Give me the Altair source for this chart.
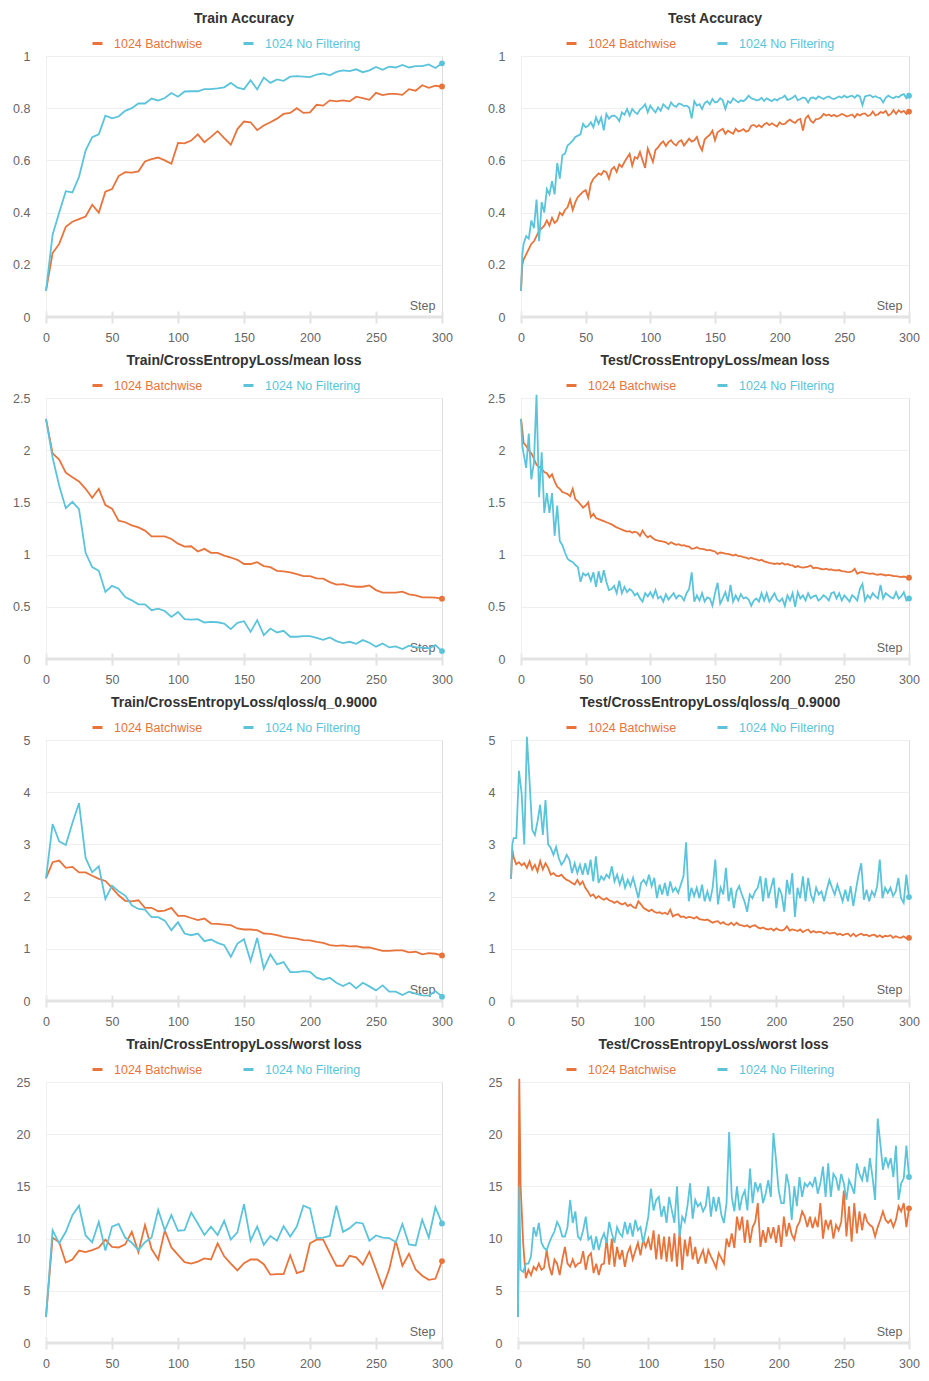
import altair as alt
import pandas as pd

RUNS = ["1024 Batchwise", "1024 No Filtering"]
ORANGE = "#E8743B"
CYAN = "#5BC4DB"
FONT = "Liberation Sans"

X_TICKS = [0, 50, 100, 150, 200, 250, 300]
ACC_TICKS = [0, 0.2, 0.4, 0.6, 0.8, 1]
MEAN_TICKS = [0, 0.5, 1, 1.5, 2, 2.5]
Q_TICKS = [0, 1, 2, 3, 4, 5]
WORST_TICKS = [0, 5, 10, 15, 20, 25]

TRAIN_STEPS = list(range(0, 301, 5))
TEST_STEPS = [0, 1] + list(range(2, 301, 2))

# ---------------- Train (every 5 steps) ----------------
TRAIN_ACC_B = [0.10, 0.245, 0.28, 0.346, 0.365, 0.375, 0.385, 0.43, 0.40, 0.48,
               0.49, 0.54, 0.555, 0.553, 0.558, 0.596, 0.605, 0.611, 0.60, 0.587,
               0.667, 0.665, 0.676, 0.70, 0.67, 0.69, 0.712, 0.685, 0.66, 0.72,
               0.749, 0.746, 0.716, 0.734, 0.746, 0.76, 0.778, 0.782, 0.80, 0.782,
               0.784, 0.813, 0.81, 0.83, 0.826, 0.83, 0.826, 0.844, 0.839, 0.832,
               0.859, 0.85, 0.855, 0.855, 0.851, 0.873, 0.867, 0.888, 0.878, 0.886,
               0.883]
TRAIN_ACC_N = [0.10, 0.315, 0.40, 0.482, 0.477, 0.537, 0.638, 0.689, 0.70, 0.771,
               0.761, 0.768, 0.79, 0.80, 0.818, 0.818, 0.837, 0.829, 0.839, 0.858,
               0.844, 0.864, 0.865, 0.865, 0.873, 0.873, 0.876, 0.88, 0.897, 0.879,
               0.873, 0.907, 0.872, 0.917, 0.897, 0.91, 0.905, 0.921, 0.923, 0.921,
               0.919, 0.929, 0.933, 0.926, 0.939, 0.945, 0.942, 0.949, 0.938, 0.945,
               0.958, 0.947, 0.959, 0.956, 0.966, 0.956, 0.961, 0.961, 0.968, 0.954,
               0.972]
TRAIN_MEAN_B = [2.30, 1.97, 1.91, 1.785, 1.74, 1.70, 1.63, 1.545, 1.63, 1.475,
                1.44, 1.325, 1.31, 1.28, 1.26, 1.23, 1.175, 1.175, 1.175, 1.15,
                1.105, 1.077, 1.08, 1.03, 1.055, 1.017, 1.017, 0.99, 0.972, 0.95,
                0.91, 0.91, 0.928, 0.89, 0.88, 0.845, 0.84, 0.83, 0.813, 0.794,
                0.794, 0.772, 0.769, 0.737, 0.712, 0.718, 0.70, 0.692, 0.692, 0.705,
                0.66, 0.635, 0.635, 0.635, 0.645, 0.62, 0.61, 0.59, 0.59, 0.588,
                0.578]
TRAIN_MEAN_N = [2.30, 1.93, 1.66, 1.445, 1.505, 1.435, 1.017, 0.88, 0.845, 0.642,
                0.70, 0.673, 0.594, 0.562, 0.524, 0.524, 0.467, 0.483, 0.46, 0.403,
                0.451, 0.381, 0.378, 0.381, 0.35, 0.356, 0.352, 0.34, 0.286, 0.346,
                0.362, 0.26, 0.372, 0.229, 0.292, 0.254, 0.27, 0.213, 0.213, 0.219,
                0.219, 0.203, 0.184, 0.206, 0.172, 0.152, 0.165, 0.146, 0.181, 0.156,
                0.118, 0.149, 0.111, 0.121, 0.095, 0.127, 0.114, 0.108, 0.102, 0.133,
                0.076]
TRAIN_Q_B = [2.35, 2.66, 2.69, 2.55, 2.57, 2.465, 2.465, 2.40, 2.34, 2.30,
             2.165, 2.025, 1.92, 1.91, 1.93, 1.785, 1.785, 1.72, 1.73, 1.785,
             1.63, 1.63, 1.59, 1.55, 1.58, 1.484, 1.478, 1.465, 1.452, 1.39,
             1.37, 1.37, 1.357, 1.293, 1.287, 1.26, 1.23, 1.21, 1.197, 1.166,
             1.16, 1.134, 1.115, 1.07, 1.057, 1.064, 1.045, 1.05, 1.025, 1.025,
             0.994, 0.962, 0.962, 0.968, 0.968, 0.93, 0.943, 0.892, 0.917, 0.905,
             0.873]
TRAIN_Q_N = [2.35, 3.39, 3.06, 2.99, 3.41, 3.79, 2.74, 2.465, 2.58, 1.955,
             2.21, 2.10, 2.02, 1.834, 1.764, 1.75, 1.605, 1.605, 1.54, 1.357,
             1.51, 1.293, 1.26, 1.293, 1.146, 1.178, 1.115, 1.07, 0.847, 1.10,
             1.185, 0.764, 1.21, 0.618, 0.892, 0.70, 0.745, 0.554, 0.554, 0.573,
             0.56, 0.446, 0.408, 0.446, 0.35, 0.287, 0.35, 0.242, 0.35, 0.28,
             0.204, 0.30, 0.178, 0.178, 0.115, 0.178, 0.14, 0.108, 0.102, 0.19,
             0.083]
TRAIN_WORST_B = [2.5, 10.1, 9.65, 7.7, 8.0, 8.85, 8.7, 8.9, 9.15, 9.9,
                 9.2, 9.15, 9.45, 10.65, 8.7, 11.3, 9.0, 8.0, 10.8, 9.15,
                 8.45, 7.75, 7.6, 7.8, 8.1, 8.0, 9.55, 8.3, 7.6, 6.95,
                 7.65, 8.0, 8.0, 7.55, 6.55, 6.6, 6.6, 8.4, 6.7, 6.9,
                 9.55, 9.9, 9.9, 8.6, 7.4, 7.4, 8.35, 8.2, 7.5, 8.75,
                 7.05, 5.3, 7.05, 9.8, 7.4, 8.55, 7.05, 6.45, 6.05, 6.15,
                 7.85]
TRAIN_WORST_N = [2.5, 10.8, 9.55, 10.65, 12.25, 13.15, 10.3, 9.65, 11.6, 8.85,
                 11.15, 11.4, 10.1, 9.6, 8.9, 9.65, 10.1, 12.75, 10.8, 12.25,
                 10.75, 10.8, 12.5, 11.45, 10.35, 11.15, 10.35, 11.7, 9.9, 10.6,
                 13.3, 9.8, 11.15, 9.4, 10.25, 9.8, 11.2, 10.2, 11.15, 13.15,
                 12.9, 10.05, 10.1, 10.25, 13.15, 10.65, 11.0, 11.55, 11.45, 9.8,
                 10.3, 10.1, 10.05, 9.65, 11.4, 9.45, 9.35, 11.8, 10.1, 13.0,
                 11.45]

# ---------------- Test (steps 0, 1, then every 2 steps) ----------------
TEST_ACC_B = [0.10, 0.20, 0.22, 0.24, 0.26, 0.28, 0.29, 0.31, 0.33, 0.34, 0.35,
              0.37, 0.35, 0.38, 0.36, 0.37, 0.40, 0.39, 0.41, 0.42, 0.45,
              0.41, 0.44, 0.46, 0.47, 0.48, 0.486, 0.457, 0.51, 0.53, 0.54,
              0.55, 0.545, 0.56, 0.555, 0.53, 0.565, 0.575, 0.556, 0.585, 0.575,
              0.594, 0.61, 0.625, 0.58, 0.613, 0.607, 0.632, 0.60, 0.571, 0.645,
              0.62, 0.594, 0.64, 0.65, 0.664, 0.673, 0.655, 0.67, 0.677, 0.664,
              0.657, 0.672, 0.677, 0.657, 0.67, 0.683, 0.672, 0.677, 0.69, 0.657,
              0.638, 0.68, 0.69, 0.698, 0.714, 0.677, 0.708, 0.715, 0.721, 0.702,
              0.714, 0.708, 0.702, 0.721, 0.711, 0.714, 0.72, 0.71, 0.714, 0.733,
              0.736, 0.728, 0.735, 0.727, 0.738, 0.744, 0.735, 0.742, 0.736, 0.73,
              0.746, 0.738, 0.74, 0.75, 0.756, 0.748, 0.744, 0.755, 0.759, 0.714,
              0.761, 0.772, 0.752, 0.744, 0.758, 0.759, 0.765, 0.778, 0.772, 0.776,
              0.769, 0.775, 0.768, 0.772, 0.778, 0.774, 0.768, 0.772, 0.776, 0.765,
              0.778, 0.772, 0.778, 0.78, 0.77, 0.774, 0.787, 0.772, 0.776, 0.785,
              0.782, 0.79, 0.772, 0.778, 0.793, 0.778, 0.792, 0.784, 0.79, 0.778,
              0.787]
TEST_ACC_N = [0.10, 0.24, 0.28, 0.31, 0.30, 0.37, 0.34, 0.45, 0.29, 0.44, 0.40,
              0.49, 0.47, 0.52, 0.47, 0.59, 0.53, 0.62, 0.626, 0.657, 0.665,
              0.676, 0.69, 0.695, 0.70, 0.74, 0.727, 0.733, 0.746, 0.727, 0.765,
              0.74, 0.765, 0.715, 0.778, 0.76, 0.77, 0.772, 0.765, 0.75, 0.784,
              0.775, 0.797, 0.772, 0.797, 0.785, 0.778, 0.795, 0.803, 0.815, 0.784,
              0.81, 0.795, 0.784, 0.803, 0.79, 0.815, 0.805, 0.797, 0.822, 0.81,
              0.805, 0.818, 0.815, 0.808, 0.81, 0.803, 0.761, 0.827, 0.81, 0.815,
              0.797, 0.82, 0.827, 0.815, 0.835, 0.822, 0.825, 0.838, 0.83, 0.797,
              0.827, 0.82, 0.838, 0.83, 0.822, 0.83, 0.827, 0.835, 0.848, 0.838,
              0.835, 0.83, 0.832, 0.84, 0.828, 0.838, 0.832, 0.827, 0.835, 0.83,
              0.838, 0.84, 0.848, 0.832, 0.835, 0.84, 0.848, 0.83, 0.835, 0.841,
              0.838, 0.822, 0.84, 0.841, 0.835, 0.845, 0.84, 0.835, 0.842, 0.845,
              0.838, 0.835, 0.84, 0.845, 0.84, 0.848, 0.841, 0.845, 0.848, 0.84,
              0.85, 0.845, 0.812, 0.845, 0.848, 0.85, 0.842, 0.846, 0.841, 0.838,
              0.822, 0.84, 0.848, 0.842, 0.838, 0.845, 0.842, 0.85, 0.854, 0.838,
              0.848]
TEST_MEAN_B = [2.30, 2.20, 2.07, 2.04, 2.00, 1.97, 1.92, 1.86, 1.84, 1.82, 1.79,
               1.78, 1.74, 1.77, 1.70, 1.65, 1.63, 1.60, 1.59, 1.58, 1.56,
               1.63, 1.53, 1.51, 1.48, 1.45, 1.47, 1.50, 1.36, 1.39, 1.35,
               1.34, 1.33, 1.32, 1.31, 1.30, 1.29, 1.275, 1.26, 1.25, 1.24,
               1.23, 1.22, 1.225, 1.21, 1.22, 1.21, 1.18, 1.23, 1.19, 1.165,
               1.18, 1.157, 1.14, 1.134, 1.13, 1.125, 1.118, 1.10, 1.118, 1.105,
               1.093, 1.10, 1.086, 1.09, 1.08, 1.077, 1.055, 1.06, 1.07, 1.058,
               1.055, 1.05, 1.04, 1.045, 1.035, 1.03, 1.007, 1.02, 1.017, 1.01,
               1.007, 1.0, 0.99, 1.0, 0.985, 0.985, 0.975, 0.97, 0.96, 0.97,
               0.96, 0.955, 0.943, 0.95, 0.935, 0.928, 0.92, 0.915, 0.91, 0.915,
               0.91, 0.92, 0.905, 0.91, 0.90, 0.896, 0.88, 0.89, 0.88, 0.875,
               0.88, 0.885, 0.896, 0.87, 0.875, 0.87, 0.862, 0.858, 0.865, 0.855,
               0.858, 0.85, 0.848, 0.852, 0.842, 0.84, 0.835, 0.832, 0.84, 0.864,
               0.816, 0.83, 0.832, 0.825, 0.82, 0.816, 0.82, 0.81, 0.807, 0.812,
               0.807, 0.80, 0.805, 0.80, 0.795, 0.794, 0.79, 0.785, 0.79, 0.782,
               0.778]
TEST_MEAN_N = [2.30, 2.04, 1.97, 1.83, 2.16, 1.72, 1.88, 2.53, 1.55, 1.98, 1.40,
               1.59, 1.40, 1.59, 1.18, 1.47, 1.13, 1.09, 1.02, 0.96, 0.94,
               0.93, 0.90, 0.88, 0.74, 0.82, 0.80, 0.82, 0.75, 0.83, 0.69,
               0.84, 0.73, 0.85, 0.74, 0.66, 0.67, 0.70, 0.63, 0.75, 0.63,
               0.69, 0.64, 0.67, 0.65, 0.61, 0.63, 0.58, 0.55, 0.63, 0.60,
               0.64, 0.59, 0.66, 0.58, 0.60, 0.55, 0.62, 0.57, 0.60, 0.63,
               0.58, 0.61, 0.60, 0.56, 0.63, 0.67, 0.83, 0.55, 0.61, 0.56,
               0.63, 0.55, 0.59, 0.58, 0.51, 0.63, 0.73, 0.53, 0.58, 0.64,
               0.55, 0.71, 0.55, 0.61, 0.56, 0.62, 0.58, 0.59, 0.57, 0.51,
               0.56, 0.58, 0.55, 0.63, 0.56, 0.63, 0.55, 0.59, 0.63, 0.57,
               0.55, 0.58, 0.51, 0.61, 0.56, 0.63, 0.50, 0.64, 0.58, 0.61,
               0.56, 0.63, 0.58, 0.60, 0.61, 0.56, 0.58, 0.61, 0.59, 0.56,
               0.63, 0.64, 0.58, 0.63, 0.56, 0.61, 0.58, 0.55, 0.61, 0.59,
               0.56, 0.67, 0.72, 0.56, 0.61, 0.58, 0.63, 0.60, 0.58, 0.71,
               0.58, 0.63, 0.61, 0.59, 0.58, 0.64, 0.58, 0.60, 0.64, 0.56,
               0.58]
TEST_Q_B = [2.34, 2.90, 2.75, 2.62, 2.66, 2.60, 2.64, 2.55, 2.68, 2.52, 2.61,
            2.48, 2.68, 2.52, 2.64, 2.55, 2.42, 2.45, 2.40, 2.39, 2.42,
            2.36, 2.32, 2.30, 2.26, 2.23, 2.32, 2.23, 2.29, 2.17, 2.10,
            2.01, 2.04, 1.97, 2.01, 1.97, 1.94, 1.97, 1.93, 1.91, 1.88,
            1.91, 1.87, 1.85, 1.88, 1.82, 1.85, 1.80, 1.78, 1.91, 1.85,
            1.78, 1.75, 1.72, 1.75, 1.71, 1.69, 1.70, 1.67, 1.69, 1.66,
            1.75, 1.62, 1.65, 1.66, 1.61, 1.62, 1.59, 1.61, 1.60, 1.58,
            1.61, 1.57, 1.56, 1.55, 1.56, 1.53, 1.50, 1.52, 1.53, 1.48,
            1.51, 1.47, 1.46, 1.50, 1.45, 1.50, 1.46, 1.45, 1.43, 1.45,
            1.41, 1.44, 1.45, 1.41, 1.39, 1.41, 1.38, 1.37, 1.39, 1.35,
            1.39, 1.36, 1.35, 1.37, 1.43, 1.35, 1.37, 1.36, 1.34, 1.37,
            1.32, 1.35, 1.37, 1.31, 1.34, 1.31, 1.33, 1.32, 1.29, 1.32,
            1.29, 1.30, 1.31, 1.27, 1.29, 1.26, 1.28, 1.29, 1.24, 1.29,
            1.24, 1.27, 1.29, 1.26, 1.27, 1.24, 1.26, 1.27, 1.23, 1.26,
            1.22, 1.25, 1.24, 1.26, 1.21, 1.24, 1.22, 1.21, 1.24, 1.20,
            1.21]
TEST_Q_N = [2.34, 3.00, 3.12, 3.12, 4.41, 3.98, 3.00, 5.06, 4.20, 3.28, 3.18,
            3.44, 3.76, 3.18, 3.85, 3.00, 2.93, 2.80, 2.95, 2.74, 2.61,
            2.68, 2.80, 2.71, 2.45, 2.64, 2.45, 2.61, 2.42, 2.64, 2.42,
            2.71, 2.29, 2.77, 2.26, 2.39, 2.32, 2.42, 2.36, 2.58, 2.29,
            2.42, 2.23, 2.39, 2.17, 2.32, 2.20, 2.36, 2.17, 1.97, 2.26,
            2.32, 2.23, 2.42, 2.20, 2.36, 1.97, 2.23, 2.04, 2.26, 2.01,
            2.29, 2.10, 2.17, 2.07, 2.23, 2.39, 3.04, 1.91, 2.17, 2.01,
            2.17, 1.97, 2.23, 1.91, 2.10, 1.91, 2.17, 2.71, 1.85, 2.17,
            2.04, 2.55, 1.91, 2.17, 1.78, 2.10, 2.20, 2.04, 1.91, 1.71,
            2.04, 1.97, 2.10, 2.17, 2.39, 1.91, 2.36, 1.97, 2.17, 2.36,
            1.78, 2.17, 2.04, 1.71, 2.32, 2.04, 2.45, 1.61, 2.17, 1.97,
            2.39, 1.91, 2.36, 2.04, 1.91, 2.17, 2.04, 2.10, 1.91, 2.13,
            2.32, 2.17, 2.04, 2.23, 2.07, 1.91, 2.13, 1.91, 2.20, 1.82,
            2.13, 2.42, 2.64, 1.94, 2.13, 1.91, 2.10, 2.01, 2.20, 2.71,
            1.97, 2.17, 2.07, 2.17, 2.01, 2.10, 2.36, 1.97, 1.88, 2.42,
            1.99]
TEST_WORST_B = [2.5, 25.3, 15.0, 9.5, 6.2, 7.0, 6.5, 7.3, 7.0, 7.6, 7.0,
                7.2, 8.9, 7.3, 6.5, 8.0, 7.6, 6.5, 8.0, 9.2, 7.6,
                7.3, 8.0, 7.3, 7.6, 7.7, 8.8, 7.0, 8.3, 8.6, 6.7,
                7.6, 6.5, 7.5, 7.6, 10.0, 7.5, 10.0, 7.3, 9.2, 8.0,
                8.9, 7.3, 8.6, 9.2, 8.0, 8.8, 9.6, 8.4, 9.9, 9.2,
                10.0, 8.9, 10.8, 8.0, 10.4, 8.0, 10.2, 7.8, 10.2, 7.8,
                10.5, 7.3, 10.7, 7.0, 9.9, 8.3, 10.2, 8.0, 9.2, 7.6,
                8.3, 8.9, 7.6, 8.9, 8.3, 7.8, 7.2, 8.6, 8.1, 7.6,
                10.0, 9.2, 10.5, 9.1, 12.1, 10.8, 12.1, 9.6, 11.8, 9.6,
                11.1, 11.6, 13.4, 9.2, 10.8, 9.6, 11.1, 10.0, 11.1, 9.6,
                11.3, 9.2, 12.1, 10.2, 11.5, 10.4, 9.9, 11.1, 11.6, 12.6,
                12.1, 11.1, 12.1, 11.0, 11.9, 11.1, 13.4, 10.0, 11.8, 11.0,
                11.8, 10.0, 11.3, 10.8, 11.6, 14.6, 10.2, 13.1, 9.7, 13.4,
                10.5, 12.6, 10.8, 12.4, 11.6, 11.3, 11.1, 10.2, 11.1, 11.8,
                12.6, 11.8, 11.5, 11.8, 11.1, 11.8, 13.1, 12.6, 13.4, 11.1,
                12.9]
TEST_WORST_N = [2.5, 15.0, 7.0, 6.8, 7.6, 7.6, 8.3, 11.1, 10.2, 11.5, 9.6,
                9.1, 8.9, 9.6, 10.2, 10.7, 11.6, 11.1, 10.2, 10.2, 11.1,
                13.7, 11.5, 12.6, 10.2, 9.9, 10.8, 12.1, 9.9, 10.2, 8.9,
                10.2, 8.9, 9.9, 10.5, 9.6, 11.6, 10.5, 9.6, 11.1, 10.5,
                10.2, 11.6, 10.4, 11.5, 10.2, 11.8, 10.8, 11.1, 9.6, 10.8,
                12.1, 14.8, 12.7, 13.7, 14.0, 12.1, 13.1, 11.5, 14.0, 12.7,
                11.5, 15.0, 10.2, 12.1, 11.6, 13.1, 15.3, 11.9, 13.7, 13.1,
                13.4, 12.6, 13.1, 15.0, 12.1, 14.0, 12.6, 14.0, 12.3, 11.5,
                13.4, 20.2, 14.0, 12.6, 15.0, 12.7, 14.0, 14.6, 12.7, 16.7,
                13.4, 15.4, 14.6, 15.3, 13.4, 14.3, 15.6, 14.0, 20.1, 17.5,
                14.6, 13.4, 13.4, 16.2, 15.0, 11.8, 15.0, 13.1, 15.9, 14.0,
                15.3, 15.0, 15.4, 15.0, 15.9, 14.3, 15.3, 16.9, 14.0, 17.2,
                14.0, 16.2, 15.8, 14.6, 16.2, 15.3, 13.7, 15.6, 15.0, 14.3,
                17.2, 16.2, 15.6, 16.9, 15.4, 17.7, 15.9, 13.7, 21.5, 19.1,
                16.6, 17.8, 16.9, 17.7, 15.9, 18.9, 13.7, 15.3, 15.8, 18.9,
                15.9]

GRAY = "#666666"
LABEL_COLOR_EXPR = "datum.value == '1024 Batchwise' ? '%s' : '%s'" % (ORANGE, CYAN)


def panel(title, steps, b_vals, n_vals, yticks, width, height, legend_x):
    assert len(steps) == len(b_vals) == len(n_vals), title
    df = pd.DataFrame({
        "step": steps + steps,
        "value": b_vals + n_vals,
        "run": [RUNS[0]] * len(steps) + [RUNS[1]] * len(steps),
    })
    last_b = pd.DataFrame({"step": [steps[-1]], "value": [b_vals[-1]]})
    last_n = pd.DataFrame({"step": [steps[-1]], "value": [n_vals[-1]]})
    base_df = pd.DataFrame({"value": [0]})

    x = alt.X("step:Q", scale=alt.Scale(domain=[0, 300], nice=False, zero=False),
              axis=alt.Axis(values=X_TICKS, title="Step", domain=False, grid=False,
                            ticks=True, tickSize=12, tickWidth=2, tickColor="#e3e3e3",
                            offset=-6, labelPadding=8, labelFontSize=12.5,
                            labelColor=GRAY, labelFont=FONT, labelFlush=False,
                            titleFont=FONT, titleFontSize=12.5, titleFontWeight="normal",
                            titleColor=GRAY, titleAlign="right", titleBaseline="middle",
                            titleX=width - 7, titleY=-6))
    y = alt.Y("value:Q", scale=alt.Scale(domain=[yticks[0], yticks[-1]], nice=False),
              axis=alt.Axis(values=yticks, title=None, format="~g", domain=True,
                            domainColor="#f0f0f0", ticks=False, grid=True,
                            gridColor="#efefef", labelPadding=16, labelFontSize=12.5,
                            labelColor=GRAY, labelFont=FONT))
    color = alt.Color("run:N", scale=alt.Scale(domain=RUNS, range=[ORANGE, CYAN]),
                      legend=alt.Legend(title=None, orient="none", legendX=legend_x,
                                        legendY=-19, direction="horizontal",
                                        symbolType="stroke", symbolStrokeWidth=3,
                                        symbolSize=100, labelFontSize=12.5, labelFont=FONT,
                                        labelColor={"expr": LABEL_COLOR_EXPR},
                                        columnPadding=34, labelOffset=10, padding=0))

    rule = alt.Chart(base_df).mark_rule(color="#e3e3e3", strokeWidth=3).encode(y=y)
    lines = alt.Chart(df).mark_line(strokeWidth=1.8).encode(x=x, y=y, color=color)
    dot_b = alt.Chart(last_b).mark_circle(size=34, opacity=1, color=ORANGE).encode(x=x, y=y)
    dot_n = alt.Chart(last_n).mark_circle(size=34, opacity=1, color=CYAN).encode(x=x, y=y)
    return alt.layer(rule, lines, dot_b, dot_n).properties(
        width=width, height=height,
        title=alt.TitleParams(title, font=FONT, fontSize=14, fontWeight="bold",
                              color="#333333", offset=11, anchor="middle"))


def row(left, right):
    return alt.hconcat(left, right, spacing=34).resolve_scale(
        color="independent").resolve_legend(color="independent")


H = 261
W_L = 396
rows = [
    row(panel("Train Accuracy", TRAIN_STEPS, TRAIN_ACC_B, TRAIN_ACC_N, ACC_TICKS, W_L, H, 45),
        panel("Test Accuracy", TEST_STEPS, TEST_ACC_B, TEST_ACC_N, ACC_TICKS, 388, H, 44)),
    row(panel("Train/CrossEntropyLoss/mean loss", TRAIN_STEPS, TRAIN_MEAN_B, TRAIN_MEAN_N, MEAN_TICKS, W_L, H, 45),
        panel("Test/CrossEntropyLoss/mean loss", TEST_STEPS, TEST_MEAN_B, TEST_MEAN_N, MEAN_TICKS, 388, H, 44)),
    row(panel("Train/CrossEntropyLoss/qloss/q_0.9000", TRAIN_STEPS, TRAIN_Q_B, TRAIN_Q_N, Q_TICKS, W_L, H, 45),
        panel("Test/CrossEntropyLoss/qloss/q_0.9000", TEST_STEPS, TEST_Q_B, TEST_Q_N, Q_TICKS, 398, H, 54)),
    row(panel("Train/CrossEntropyLoss/worst loss", TRAIN_STEPS, TRAIN_WORST_B, TRAIN_WORST_N, WORST_TICKS, W_L, H, 45),
        panel("Test/CrossEntropyLoss/worst loss", TEST_STEPS, TEST_WORST_B, TEST_WORST_N, WORST_TICKS, 391, H, 47)),
]

chart = alt.vconcat(*rows, spacing=9).resolve_scale(
    color="independent").resolve_legend(color="independent").properties(
    padding={"left": 4, "top": 3, "right": 0, "bottom": 0}
).configure_view(stroke="transparent", strokeWidth=0).configure(background="white")

chart.save("out.html", embed_options={"renderer": "svg", "actions": False})
